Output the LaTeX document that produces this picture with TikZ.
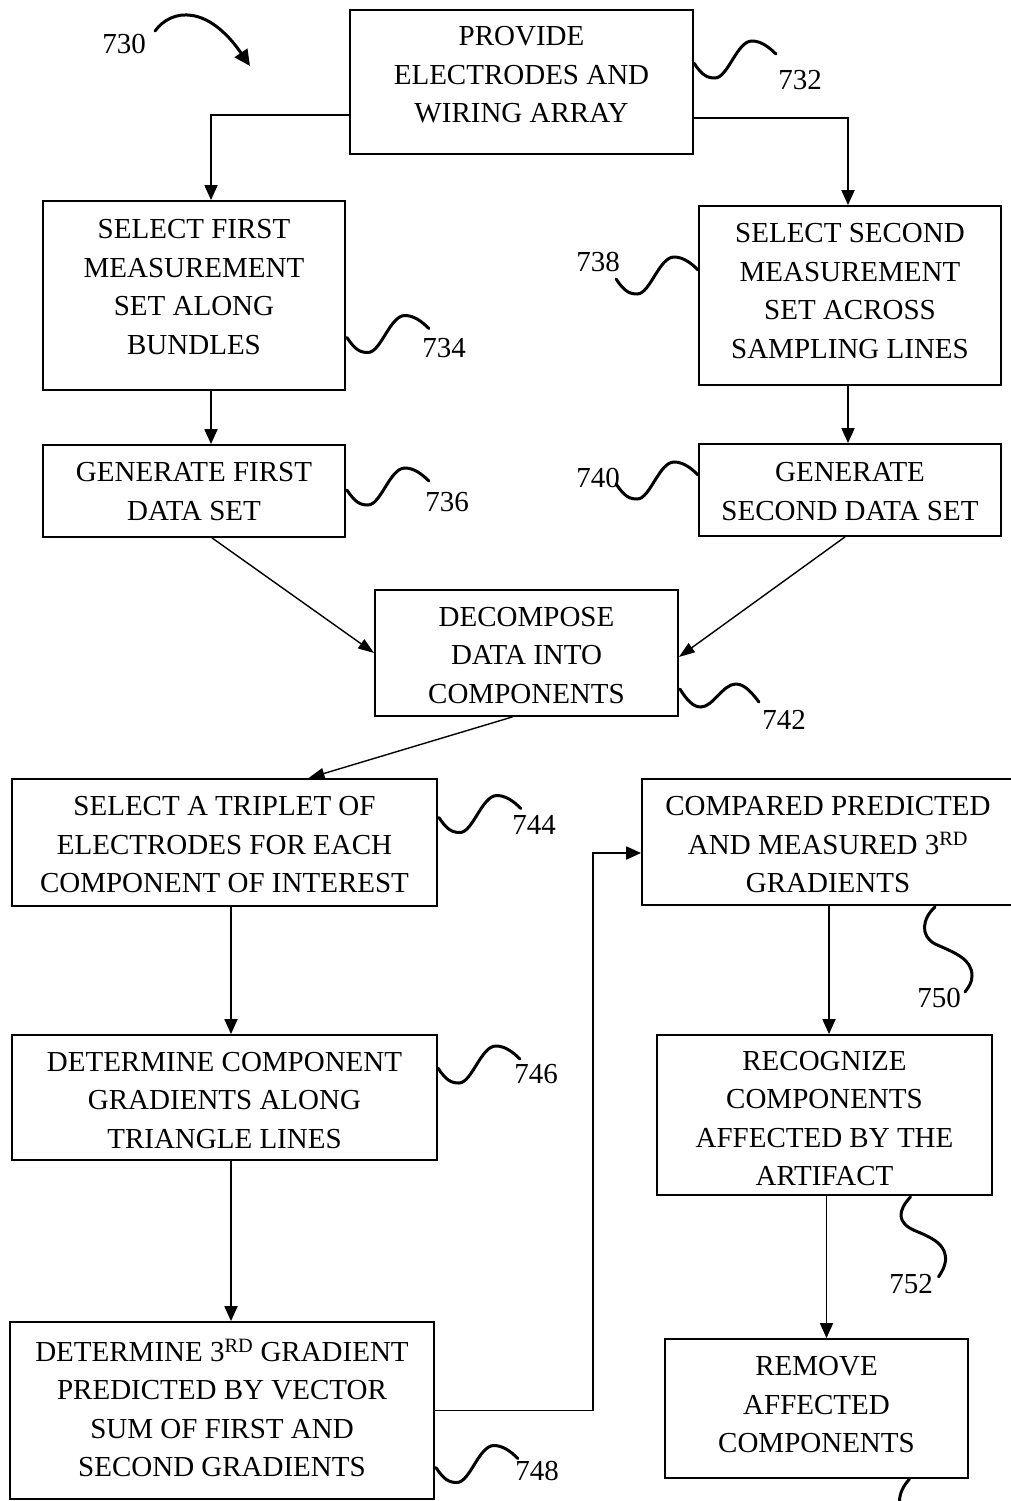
\documentclass[tikz,border=0pt]{standalone}
\usepackage{fontspec}
\setmainfont{Liberation Serif}
\usetikzlibrary{arrows.meta,calc}
\tikzset{
  box/.style={draw, line width=1.8pt, inner sep=0pt},
  txt/.style={align=center, inner sep=0pt, font=\fontsize{29}{38.5}\selectfont},
  lab/.style={inner sep=0pt, font=\fontsize{29}{34}\selectfont},
  arr/.style={line width=1.8pt, -{Triangle[length=15pt,width=13pt]}},
  darr/.style={line width=1.4pt, -{Triangle[length=16pt,width=11pt]}},
  sq/.style={line width=3pt, line cap=round},
  squig/.pic={\draw[sq] (0,0) .. controls (8,12) and (13,15) .. (21,15) .. controls (34,15) and (43,-22) .. (58,-22) .. controls (67,-22) and (75,-16) .. (82,-9);}
}
\begin{document}
\begin{tikzpicture}[x=1pt,y=-1pt]
\useasboundingbox (0,0) rectangle (1011,1501);

% boxes
\node[box, minimum width=343pt, minimum height=144pt] (prov) at (521.5,82) {};
\node[txt] (tprov) at (521.5,75) {PROVIDE\\ELECTRODES AND\\WIRING ARRAY};

\node[box, minimum width=302pt, minimum height=189pt] (sel1) at (194,295.5) {};
\node[txt] (tsel1) at (194,287) {SELECT FIRST\\MEASUREMENT\\SET ALONG\\BUNDLES};

\node[box, minimum width=302pt, minimum height=179pt] (sel2) at (850,295.5) {};
\node[txt] (tsel2) at (850,291) {SELECT SECOND\\MEASUREMENT\\SET ACROSS\\SAMPLING LINES};

\node[box, minimum width=302pt, minimum height=92pt] (gen1) at (194,491) {};
\node[txt] (tgen1) at (194,491.5) {GENERATE FIRST\\DATA SET};

\node[box, minimum width=302pt, minimum height=92pt] (gen2) at (850,490) {};
\node[txt] (tgen2) at (850,491.5) {GENERATE\\SECOND DATA SET};

\node[box, minimum width=303pt, minimum height=126pt] (dec) at (526.5,653) {};
\node[txt] (tdec) at (526.5,655.5) {DECOMPOSE\\DATA INTO\\COMPONENTS};

\node[box, minimum width=425pt, minimum height=127pt] (trip) at (224.5,842.5) {};
\node[txt] (ttrip) at (224.5,845) {SELECT A TRIPLET OF\\ELECTRODES FOR EACH\\COMPONENT OF INTEREST};

\node[box, minimum width=372pt, minimum height=126pt] (comp) at (828,842) {};
\node[txt] (tcomp) at (828,845) {COMPARED PREDICTED\\AND MEASURED 3\textsuperscript{RD}\\GRADIENTS};

\node[box, minimum width=425pt, minimum height=125pt] (dcg) at (224.5,1097.5) {};
\node[txt] (tdcg) at (224.5,1100.5) {DETERMINE COMPONENT\\GRADIENTS ALONG\\TRIANGLE LINES};

\node[box, minimum width=335pt, minimum height=160pt] (rec) at (824.5,1115) {};
\node[txt] (trec) at (824.5,1118.5) {RECOGNIZE\\COMPONENTS\\AFFECTED BY THE\\ARTIFACT};

\node[box, minimum width=424pt, minimum height=177pt] (d3) at (222,1410.5) {};
\node[txt] (td3) at (222,1408) {DETERMINE 3\textsuperscript{RD} GRADIENT\\PREDICTED BY VECTOR\\SUM OF FIRST AND\\SECOND GRADIENTS};

\node[box, minimum width=303pt, minimum height=139pt] (rem) at (816.5,1408.5) {};
\node[txt] (trem) at (816.5,1405) {REMOVE\\AFFECTED\\COMPONENTS};

% connectors
\draw[arr] ($(prov.west)+(0,33)$) -| ($(sel1.north)+(17,0)$);
\draw[arr] ($(prov.east)+(0,36)$) -| ($(sel2.north)+(-2,0)$);
\draw[arr] ($(sel1.south)+(17,0)$) -- ($(gen1.north)+(17,0)$);
\draw[arr] ($(sel2.south)+(-2,0)$) -- ($(gen2.north)+(-2,0)$);
\draw[darr] ($(gen1.south)+(18,0)$) -- (dec.west);
\draw[darr] ($(gen2.south)+(-5,0)$) -- ($(dec.east)+(0,4)$);
\draw[darr] ($(dec.south)+(-14,0)$) -- ($(trip.north)+(84,0)$);
\draw[arr] ($(trip.south)+(6.5,0)$) -- ($(dcg.north)+(6.5,0)$);
\draw[arr] ($(dcg.south)+(6.5,0)$) -- ($(d3.north)+(9,0)$);
\draw[arr] (d3.east) -- ++(158,0) |- ($(comp.west)+(0,11)$);
\coordinate (c1) at ($(comp.south)+(1,0)$);
\draw[arr] (c1) -- (c1 |- rec.north);
\coordinate (c2) at ($(rec.south)+(2,0)$);
\draw[arr] (c2) -- (c2 |- rem.north);

% reference squiggles
\path ($(prov.east)+(0,-19)$) pic {squig};
\path ($(sel1.east)+(1,42)$) pic {squig};
\path ($(gen1.east)+(1,-1)$) pic {squig};
\path ($(sel2.west)+(-82,-16.5)$) pic {squig};
\path ($(gen2.west)+(-82,-6)$) pic {squig};
\path ($(trip.east)+(1,-25)$) pic {squig};
\path ($(dcg.east)+(0,-29.5)$) pic {squig};
\path ($(d3.east)+(1,57)$) pic {squig};
\coordinate (s742) at ($(dec.east)+(1,36)$);
\draw[sq] (s742) .. controls +(7,11) and +(-8,0) .. ++(21,18) .. controls +(12,0) and +(-13,0) .. ++(35,-23) .. controls +(9,0) and +(-6,-8) .. ++(23,18);
\coordinate (s750) at ($(comp.south)+(107,1)$);
\draw[sq] (s750) .. controls +(-13,12) and +(-15,-8) .. ++(0,37) .. controls +(20,9) and +(0,-17) .. ++(37,32) .. controls +(0,6) and +(4,-5) .. ++(-7,16);
\coordinate (s752) at ($(rec.south)+(86,1)$);
\draw[sq] (s752) .. controls +(-13,14) and +(-19,-8) .. ++(5,34) .. controls +(20,8) and +(1,-15) .. ++(30,30) .. controls +(-1,6) and +(4,-6) .. ++(-7,16);
\coordinate (s760) at ($(rem.south)+(93,0)$);
\draw[sq] (s760) .. controls +(-7,8) and +(0,-8) .. ++(-10,23);

% figure reference arrow
\coordinate (a730) at (155,31);
\coordinate (b730) at (250,66);
\draw[line width=3pt, line cap=round, -{Triangle[length=16pt,width=15pt]}] (a730) .. controls (172,8) and (208,5) .. (b730);

% labels
\node[lab] (l730) at (124,44) {730};
\node[lab] (l732) at (800,80) {732};
\node[lab] (l734) at (444,348) {734};
\node[lab] (l736) at (447,502) {736};
\node[lab] (l738) at (598,262) {738};
\node[lab] (l740) at (598,478) {740};
\node[lab] (l742) at (784,720) {742};
\node[lab] (l744) at (534,825) {744};
\node[lab] (l746) at (536,1074) {746};
\node[lab] (l748) at (537,1471) {748};
\node[lab] (l750) at (939,998) {750};
\node[lab] (l752) at (911,1284) {752};
\end{tikzpicture}
\end{document}
